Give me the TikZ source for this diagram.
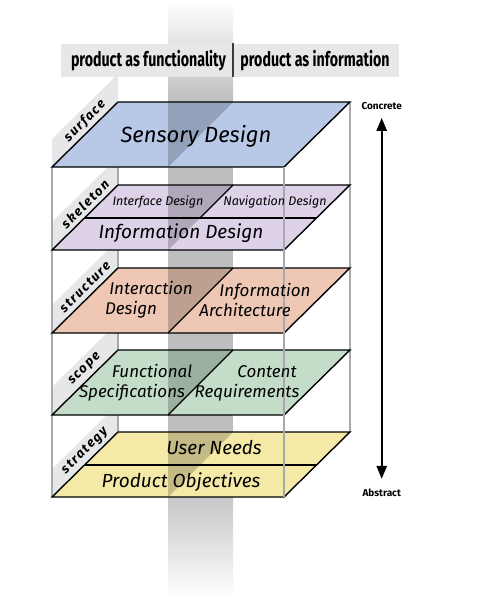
\documentclass[tikz,border=0pt]{standalone}
\usepackage{fontspec}
\usepackage{graphicx}
\setmainfont{Fira Sans}
\usetikzlibrary{arrows.meta}
\definecolor{surfacecol}{RGB}{184,201,232}
\definecolor{skeletoncol}{RGB}{221,210,232}
\definecolor{structurecol}{RGB}{238,200,181}
\definecolor{scopecol}{RGB}{196,221,201}
\definecolor{strategycol}{RGB}{245,233,167}
\definecolor{tabgray}{RGB}{230,231,232}
\definecolor{bandgray}{RGB}{188,190,192}
\definecolor{wiregray}{RGB}{167,169,172}
\definecolor{sepgray}{RGB}{60,60,62}
\newcommand{\squeezed}[2]{\scalebox{#1}[1]{#2}}
\newcommand{\twolines}[2]{\hspace*{20pt}#1\\#2\hspace*{20pt}}

\begin{document}
\begin{tikzpicture}[x=1pt,y=1pt,
    plane/.style={draw=black,line width=1.4pt,line join=miter},
    wire/.style={draw=wiregray,line width=1.3pt},
    tabface/.style={fill=tabgray},
    wallshade/.style={fill=black,fill opacity=0.2},
    tablabel/.style={rotate=45,font=\bfseries\itshape\fontsize{13}{13}\selectfont\addfontfeature{LetterSpace=12}},
    biglabel/.style={font=\itshape\fontsize{19}{19}\selectfont},
    midlabel/.style={font=\itshape\fontsize{17}{20}\selectfont,align=center},
    smalllabel/.style={font=\itshape\fontsize{12.5}{12.5}\selectfont},
    headtext/.style={font=\bfseries\fontsize{20}{20}\selectfont},
    poletext/.style={font=\bfseries\fontsize{10}{10}\selectfont}]
            \tikzstyle{every node}+=[inner sep=0pt]
            \useasboundingbox (0,0) rectangle (486,-610);
            \shade [top color=white, bottom color=bandgray] (168,0) rectangle (233,-102);
            \fill [bandgray] (168,-102) rectangle (233,-497);
            \shade [top color=bandgray!85, bottom color=white] (168,-497) rectangle (233,-600);
            \fill [tabgray] (61,-44) rectangle (399,-77);
            \draw [sepgray, line width=2pt] (233,-43) -- (233,-77);
            \node [headtext] (func) at (148.5,-61) {\squeezed{0.71}{product as functionality}};
            \node [headtext] (info) at (315,-61) {\squeezed{0.71}{product as information}};
            \fill [tabface] (52,-167) -- (118,-102) -- (118,-74) -- (52,-139) -- cycle;
            \fill [tabface] (52,-250) -- (118,-185) -- (118,-157) -- (52,-222) -- cycle;
            \fill [tabface] (52,-333) -- (118,-268) -- (118,-240) -- (52,-305) -- cycle;
            \fill [tabface] (52,-415) -- (118,-350) -- (118,-322) -- (52,-387) -- cycle;
            \fill [tabface] (52,-497) -- (118,-432) -- (118,-404) -- (52,-469) -- cycle;
            \node [tablabel] (surface) at (85,-121) {surface};
            \node [tablabel] (skeleton) at (85,-204) {skeleton};
            \node [tablabel] (structure) at (85,-287) {structure};
            \node [tablabel] (scope) at (85,-369) {scope};
            \node [tablabel] (strategy) at (85,-451) {strategy};
            \draw [wire] (118,-102) -- (118,-432);
            \draw [wire] (52,-167) -- (52,-497);
            \draw [wire] (350,-102) -- (350,-432);
            \draw [plane, fill=surfacecol] (118,-102) -- (350,-102) -- (284,-167) -- (52,-167) -- cycle;
            \draw [plane, fill=skeletoncol] (118,-185) -- (350,-185) -- (284,-250) -- (52,-250) -- cycle;
            \draw [plane] (85,-218) -- (317,-218);
            \draw [plane] (233,-185) -- (200,-218);
            \draw [plane, fill=structurecol] (118,-268) -- (350,-268) -- (284,-333) -- (52,-333) -- cycle;
            \draw [plane] (233,-268) -- (168,-333);
            \draw [plane, fill=scopecol] (118,-350) -- (350,-350) -- (284,-415) -- (52,-415) -- cycle;
            \draw [plane] (233,-350) -- (168,-415);
            \draw [plane, fill=strategycol] (118,-432) -- (350,-432) -- (284,-497) -- (52,-497) -- cycle;
            \draw [plane] (85,-465) -- (317,-465);
            \fill [wallshade] (168,-102) -- (233,-102) -- (168,-167) -- cycle;
            \fill [wallshade] (168,-185) -- (233,-185) -- (168,-250) -- cycle;
            \fill [wallshade] (168,-268) -- (233,-268) -- (168,-333) -- cycle;
            \fill [wallshade] (168,-350) -- (233,-350) -- (168,-415) -- cycle;
            \fill [wallshade] (168,-432) -- (233,-432) -- (168,-497) -- cycle;
            \draw [wire] (284,-167) -- (284,-497);
            \node [biglabel, font=\itshape\fontsize{22}{22}\selectfont] (sensory) at (196,-136) {Sensory Design};
            \node [smalllabel] (interface) at (158,-202) {Interface Design};
            \node [smalllabel] (navigation) at (275,-202) {Navigation Design};
            \node [biglabel] (infodesign) at (181,-233) {Information Design};
            \node [midlabel] (interaction) at (141,-300) {\twolines{Interaction}{Design}};
            \node [midlabel] (infoarch) at (255,-300) {\twolines{Information}{Architecture}};
            \node [midlabel] (functional) at (142,-383) {\twolines{Functional}{Specifications}};
            \node [midlabel] (content) at (257,-383) {\twolines{Content}{Requirements}};
            \node [biglabel] (userneeds) at (214,-448) {User Needs};
            \node [biglabel] (objectives) at (181,-482) {Product Objectives};
            \node [poletext] (concrete) at (381.7,-106) {Concrete};
            \node [poletext] (abstract) at (381.7,-493) {Abstract};
            \draw [black, line width=2.4pt, {Triangle[length=13pt,width=10pt]}-{Triangle[length=13pt,width=10pt]}, shorten <=8pt, shorten >=10pt] (concrete.south) -- (abstract.north);
        \end{tikzpicture}
\end{document}
